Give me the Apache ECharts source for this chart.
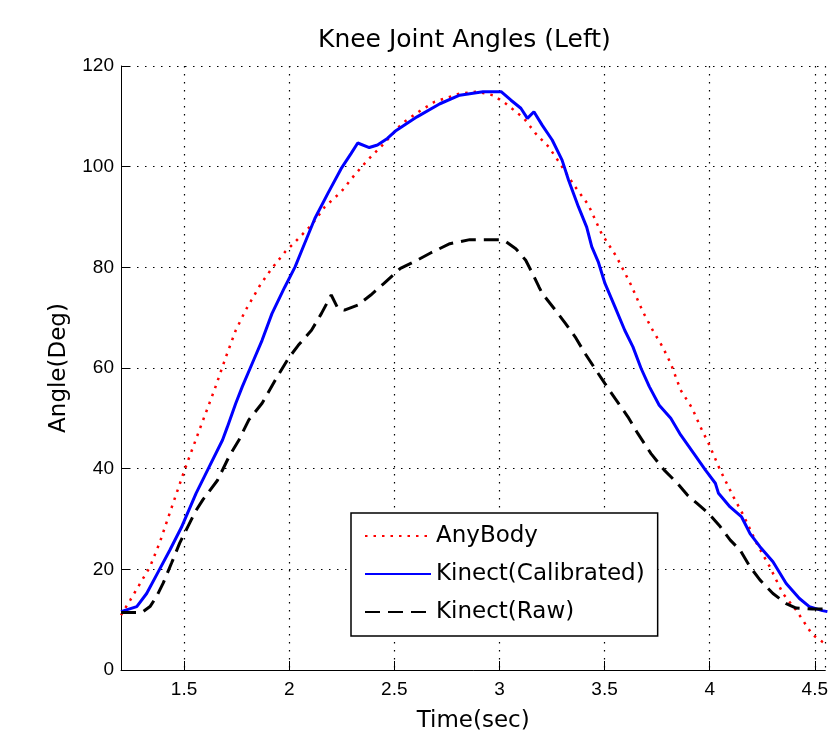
<!DOCTYPE html>
<html>
<head>
<meta charset="utf-8">
<script src="https://cdn.jsdelivr.net/npm/echarts@6/dist/echarts.min.js"></script>
<style>
  html, body { margin: 0; padding: 0; background: #fff; }
  #chart { width: 831px; height: 752px; }
</style>
</head>
<body>
<div id="chart"></div>
<script>
// AnyBody (red dotted)
var anyBodyTime = [1.200, 1.244, 1.338, 1.385, 1.432, 1.502, 1.573, 1.644, 1.699, 1.746, 1.793, 1.865, 1.918, 1.981, 2.020, 2.106, 2.169, 2.247, 2.310, 2.373, 2.451, 2.537, 2.616, 2.692, 2.810, 2.890, 2.969, 3.031, 3.117, 3.172, 3.235, 3.282, 3.360, 3.423, 3.486, 3.557, 3.626, 3.682, 3.729, 3.776, 3.815, 3.862, 3.917, 3.956, 3.995, 4.050, 4.113, 4.160, 4.223, 4.286, 4.348, 4.411, 4.489, 4.536, 4.560];
var anyBodyAngle = [10.9, 13.9, 20.5, 25.4, 31.2, 39.7, 47.7, 55.6, 62.2, 67.5, 71.5, 76.7, 79.8, 83.1, 84.7, 88.4, 92.0, 95.0, 98.3, 101.3, 104.6, 108.6, 110.9, 112.9, 114.5, 114.9, 114.2, 112.5, 109.6, 106.6, 103.9, 101.0, 96.0, 92.4, 86.7, 82.1, 76.5, 71.2, 67.5, 64.2, 60.9, 55.6, 52.0, 48.3, 45.0, 39.7, 34.4, 30.8, 25.2, 20.5, 15.2, 11.9, 7.0, 5.6, 5.0];

// Kinect calibrated (blue solid)
var calibTime = [1.200, 1.275, 1.322, 1.377, 1.432, 1.487, 1.557, 1.620, 1.683, 1.706, 1.746, 1.777, 1.824, 1.871, 1.918, 1.978, 2.028, 2.067, 2.122, 2.184, 2.247, 2.294, 2.326, 2.381, 2.420, 2.467, 2.509, 2.608, 2.717, 2.811, 2.922, 3.008, 3.055, 3.102, 3.133, 3.164, 3.204, 3.251, 3.298, 3.329, 3.376, 3.415, 3.439, 3.470, 3.502, 3.549, 3.596, 3.635, 3.674, 3.713, 3.760, 3.815, 3.862, 3.925, 3.980, 4.027, 4.042, 4.097, 4.152, 4.169, 4.192, 4.239, 4.301, 4.364, 4.427, 4.474, 4.536, 4.560];
var calibAngle = [11.6, 12.6, 15.2, 19.5, 23.8, 28.3, 35.1, 40.4, 45.7, 48.3, 53.0, 56.3, 60.9, 65.5, 70.8, 76.0, 80.1, 84.1, 89.7, 94.7, 99.6, 102.6, 104.7, 103.8, 104.3, 105.6, 107.2, 109.9, 112.5, 114.2, 114.9, 114.9, 113.2, 111.6, 109.6, 110.9, 108.2, 105.3, 101.3, 97.3, 92.0, 88.0, 84.1, 81.1, 76.8, 72.2, 67.5, 64.2, 59.9, 56.3, 52.6, 50.0, 46.7, 43.0, 39.7, 37.1, 35.1, 32.4, 30.4, 29.0, 27.1, 24.5, 21.5, 17.2, 14.2, 12.6, 11.8, 11.6];

// Kinect raw (black dashed)
var rawTime = [1.200, 1.299, 1.338, 1.369, 1.400, 1.440, 1.479, 1.518, 1.554, 1.589, 1.659, 1.714, 1.761, 1.808, 1.871, 1.934, 1.996, 2.043, 2.106, 2.153, 2.200, 2.232, 2.263, 2.326, 2.388, 2.451, 2.529, 2.608, 2.670, 2.764, 2.859, 3.000, 3.031, 3.078, 3.125, 3.157, 3.188, 3.204, 3.266, 3.313, 3.360, 3.407, 3.454, 3.502, 3.549, 3.611, 3.658, 3.721, 3.784, 3.846, 3.893, 3.940, 3.995, 4.050, 4.098, 4.145, 4.192, 4.239, 4.301, 4.364, 4.411, 4.489, 4.560];
var rawAngle = [11.4, 11.4, 12.6, 14.6, 17.2, 21.2, 25.2, 28.5, 31.5, 33.8, 37.7, 42.4, 45.7, 49.7, 53.0, 57.6, 61.9, 64.5, 67.5, 70.8, 74.5, 71.8, 71.5, 72.5, 74.5, 76.8, 79.8, 81.4, 82.8, 84.7, 85.5, 85.5, 85.1, 83.7, 81.4, 78.8, 76.1, 74.8, 71.5, 68.9, 66.2, 62.9, 59.9, 56.9, 54.0, 50.3, 47.0, 43.0, 39.7, 37.1, 34.8, 33.1, 31.1, 28.5, 25.8, 23.8, 20.5, 17.9, 15.2, 13.2, 12.3, 12.1, 12.1];

var seriesNames = ["AnyBody", "Kinect(Calibrated)", "Kinect(Raw)"];

function pairs(xs, ys) {
  return xs.map(function (x, i) { return [x, ys[i]]; });
}

var chart = echarts.init(document.getElementById("chart"), null, { renderer: "canvas" });
var font = "DejaVu Sans";

chart.setOption({
  backgroundColor: "#fff",
  animation: false,
  title: {
    text: "Knee Joint Angles (Left)",
    left: 318,
    top: 28,
    padding: 0,
    textStyle: { fontFamily: font, fontSize: 25, fontWeight: "normal", color: "#000" },
  },
  legend: {
    orient: "vertical",
    left: 351,
    top: 513,
    padding: [10, 13, 11, 13],
    itemGap: 12,
    itemWidth: 66,
    itemHeight: 14,
    borderColor: "#000",
    borderWidth: 1.5,
    backgroundColor: "#fff",
    itemStyle: { opacity: 0 }, // 只显示线，不显示圆点
    textStyle: { fontFamily: font, fontSize: 23, color: "#000", lineHeight: 26 },
    data: seriesNames,
  },
  grid: {
    left: 121,
    top: 66,
    bottom: 82,
    right: -1,
    containLabel: false,
  },
  xAxis: {
    type: "value",
    min: 1.2,
    max: 4.55,
    splitNumber: 7,
    name: "Time(sec)",
    nameLocation: "middle",
    nameGap: 40,
    nameTextStyle: { fontFamily: font, fontSize: 23, color: "#000" },
    axisLine: { show: true, onZero: false, lineStyle: { color: "#000", width: 1 } },
    axisTick: { show: true, inside: true, length: 9, lineStyle: { color: "#000" } },
    axisLabel: {
      showMinLabel: false,
      showMaxLabel: false,
      margin: 10,
      fontFamily: "Liberation Sans",
      fontSize: 19,
      color: "#000",
    },
    splitLine: {
      show: true,
      showMinLine: false,
      lineStyle: { color: "#000", width: 1.2, type: [1.5, 6.5] },
    },
  },
  yAxis: {
    type: "value",
    min: 0,
    max: 120,
    interval: 20,
    name: "Angle(Deg)",
    nameLocation: "middle",
    nameGap: 50,
    nameTextStyle: { fontFamily: font, fontSize: 23, color: "#000" },
    axisLine: { show: true, lineStyle: { color: "#000", width: 1 } },
    axisTick: { show: true, inside: true, length: 9, lineStyle: { color: "#000" } },
    axisLabel: { margin: 7, fontFamily: "Liberation Sans", fontSize: 19, color: "#000" },
    splitLine: {
      show: true,
      showMinLine: false,
      lineStyle: { color: "#000", width: 1.2, type: [1.5, 6.5] },
    },
  },
  series: [
    {
      name: seriesNames[0],
      type: "line",
      data: pairs(anyBodyTime, anyBodyAngle),
      symbol: "none",
      smooth: false,
      color: "#ff0000",
      lineStyle: { color: "#ff0000", width: 2.5, type: [2.5, 6] },
      z: 2,
    },
    {
      name: seriesNames[1],
      type: "line",
      data: pairs(calibTime, calibAngle),
      symbol: "none",
      smooth: false,
      color: "#0000ff",
      lineStyle: { color: "#0000ff", width: 3 },
      z: 3,
    },
    {
      name: seriesNames[2],
      type: "line",
      data: pairs(rawTime, rawAngle),
      symbol: "none",
      smooth: false,
      color: "#000",
      lineStyle: { color: "#000", width: 3, type: [15, 8] },
      z: 4,
    },
  ],
});
</script>
</body>
</html>
